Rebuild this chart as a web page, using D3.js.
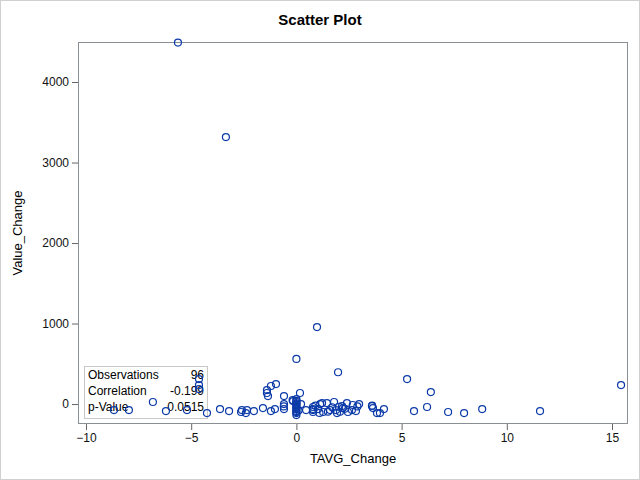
<!DOCTYPE html>
<html><head><meta charset="utf-8">
<script src="https://cdn.jsdelivr.net/npm/d3@7"></script>
<style>body{margin:0;background:#fff}svg{display:block}text{font-family:"Liberation Sans",Arial,sans-serif}</style>
</head><body>
<script>
const tavgChange = [-5.63,-3.35,0.98,0,1.98,5.26,6.39,15.43,-4.63,-4.63,-4.63,
 -8.67,-7.96,-6.82,-6.2,-5.2,-4.25,-3.63,-3.2,-2.63,-2.59,-2.4,-2.35,-2.02,-1.59,
 -1.4,-1.4,-1.35,-1.21,-0.97,-1.21,-1.02,-0.59,-0.59,-0.59,-0.16,0.17,
 0,0,0,0,0,0,0,0,0.22,0.46,0.79,0.79,0.79,1.03,1.22,1.27,1.45,1.6,1.79,1.88,1.93,
 2.17,2.21,2.4,2.45,2.64,2.68,2.83,2.98,3.59,3.64,3.83,3.97,4.16,5.59,6.21,7.21,7.97,8.83,11.58,
 0,0,0,-0.18,1.13,1.5,2.02,2.07,0.79,0,0,0.9,2.3,1.7,2.9,0.1,-0.6,3.6,1.1];
const valueChange = [4490,3316,956,560,395,310,149,236,310,236,186,
 -75,-75,25,-87,-75,-112,-62,-87,-99,-75,-112,-75,-87,-50,
 174,137,99,224,248,-87,-62,99,0,-62,37,137,
 62,25,-12,-37,-62,-87,-112,0,0,-75,-37,-62,-99,-62,12,-99,12,-75,25,-75,-112,
 -25,-50,12,-99,-75,-12,-87,0,-25,-50,-112,-112,-62,-87,-37,-99,-112,-62,-87,
 -137,-50,40,50,0,-95,-34,-96,-75,-100,10,-20,-60,-40,-30,-80,-30,-20,-110];
const xTicks = [-10,-5,0,5,10,15];
const yTicks = [0,1000,2000,3000,4000];
const statLabels = ["Observations","Correlation","p-Value"];
const statValues = ["96","-0.199","0.0515"];

const W=640,H=480;
const svg=d3.select("body").append("svg").attr("width",W).attr("height",H);
svg.append("rect").attr("x",0.5).attr("y",0.5).attr("width",W-1).attr("height",H-1)
  .attr("fill","#fff").attr("stroke","#d0d0d0");
const L=78,R=628,T=42,B=424;
const x=d3.scaleLinear().domain([-10.38,15.76]).range([L,R]);
const y=d3.scaleLinear().domain([-248,4497]).range([B,T]);

svg.append("text").attr("x",320).attr("y",25).attr("text-anchor","middle")
  .attr("font-weight","bold").attr("font-size",15).attr("fill","#000").text("Scatter Plot");

const xa=svg.append("g").attr("transform",`translate(0,${B})`)
  .call(d3.axisBottom(x).tickValues(xTicks).tickSize(6).tickPadding(3).tickFormat(d3.format("d")));
const ya=svg.append("g").attr("transform",`translate(${L},0)`)
  .call(d3.axisLeft(y).tickValues(yTicks).tickSize(6).tickPadding(3).tickFormat(d3.format("d")));
[xa,ya].forEach(a=>{a.select(".domain").remove();
  a.selectAll("line").attr("stroke","#666");
  a.selectAll("text").attr("font-size",12).attr("fill","#111").style("font-family","'Liberation Sans',Arial,sans-serif");});

svg.append("rect").attr("x",L+0.5).attr("y",T+0.5).attr("width",R-L-1).attr("height",B-T-1)
  .attr("fill","none").attr("stroke","#8a8f94");

svg.append("text").attr("x",(L+R)/2).attr("y",463).attr("text-anchor","middle")
  .attr("font-size",13).attr("fill","#000").text("TAVG_Change");
svg.append("text").attr("transform",`translate(22,${(T+B)/2}) rotate(-90)`).attr("text-anchor","middle")
  .attr("font-size",13).attr("fill","#000").text("Value_Change");

// inset
const ins=svg.append("g");
ins.append("rect").attr("x",84.5).attr("y",366.5).attr("width",123).attr("height",52)
  .attr("fill","#fff").attr("stroke","#c8c8c8");
statLabels.forEach((s,i)=>{
  ins.append("text").attr("x",88).attr("y",379+i*16).attr("font-size",12).attr("fill","#000").text(s);
  ins.append("text").attr("x",204).attr("y",379+i*16).attr("text-anchor","end").attr("font-size",12).attr("fill","#000").text(statValues[i]);
});

svg.append("g").selectAll("circle").data(tavgChange.map((d,i)=>[d,valueChange[i]])).join("circle")
  .attr("cx",d=>x(d[0])).attr("cy",d=>y(d[1])).attr("r",3.5)
  .attr("fill","none").attr("stroke","#0b3aa8").attr("stroke-width",1.2);
</script>
</body></html>
